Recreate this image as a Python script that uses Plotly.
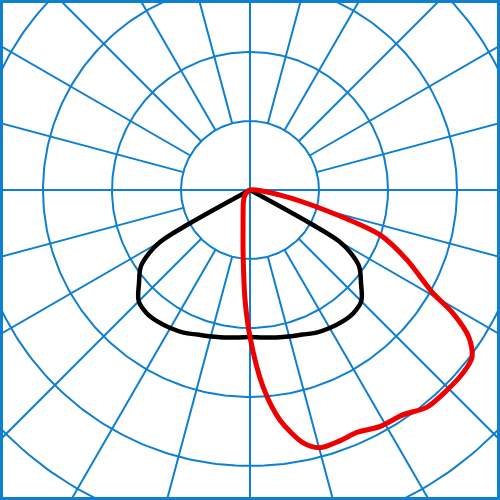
import numpy as np
import plotly.graph_objects as go

# ---- data (luminous intensity, cd/klm) ----
# C0-C180 plane (symmetric), gamma measured from nadir
black_gamma = [0, 10, 20, 25, 30, 35, 40, 45, 50, 55, 58, 60, 61, 90]
black_value = [213, 217, 223, 228, 231, 233, 233, 228, 210, 193, 172, 150, 101, 0]

# C90-C270 plane (asymmetric), negative gamma = left of nadir
red_gamma = [-90, -45, -30, -20, -10, -6.4, -2.6, 0, 3.8, 7.4, 11.8, 15.2, 19.8,
             23.8, 28.7, 34.2, 39.2, 44.6, 49.3, 53, 56, 58.8, 60.6, 66, 70.9,
             74.6, 80.5, 90]
red_value = [0, 10, 19, 29, 58, 90, 159, 213, 286, 336, 374, 387, 386,
             384, 391, 394, 406, 407, 407, 403, 383, 343, 304, 249, 200,
             120, 43, 0]

grid_rings = [100, 200, 300, 400, 500]
grid_angle_step = 15

# ---- layout constants ----
W = H = 500
PX_PER_UNIT = 0.69
CX, CY = 250, 190  # pixel position of the pole

GRID_COLOR = "#0f7fd0"


def to_xy(gamma_deg, value):
    g = np.radians(np.asarray(gamma_deg, dtype=float))
    v = np.asarray(value, dtype=float)
    return v * np.sin(g), -v * np.cos(g)


fig = go.Figure()

# grid: rings
gx, gy = [], []
t = np.linspace(0, 2 * np.pi, 361)
for r in grid_rings:
    gx += list(r * np.cos(t)) + [None]
    gy += list(r * np.sin(t)) + [None]
# grid: radial lines
rmax = 800
for a in range(0, 360, grid_angle_step):
    ar = np.radians(a)
    r0 = 0 if a % 90 == 0 else grid_rings[0]
    gx += [r0 * np.cos(ar), rmax * np.cos(ar), None]
    gy += [r0 * np.sin(ar), rmax * np.sin(ar), None]
fig.add_trace(go.Scatter(x=gx, y=gy, mode="lines",
                         line=dict(color=GRID_COLOR, width=2),
                         hoverinfo="skip", showlegend=False))

# black curve: symmetric plane drawn as two halves from the pole
for sign in (1, -1):
    bx, by = to_xy([sign * g for g in black_gamma[::-1]], black_value[::-1])
    fig.add_trace(go.Scatter(x=bx, y=by, mode="lines",
                             line=dict(color="black", width=4.5, shape="spline", smoothing=1.0),
                             showlegend=False, name="C0-C180"))

# red curve
rx, ry = to_xy(red_gamma, red_value)
fig.add_trace(go.Scatter(x=rx, y=ry, mode="lines",
                         line=dict(color="#ee0000", width=5, shape="spline", smoothing=0.8),
                         showlegend=False, name="C90-C270"))

xr = [-CX / PX_PER_UNIT, (W - CX) / PX_PER_UNIT]
yr = [-(H - CY) / PX_PER_UNIT, CY / PX_PER_UNIT]

fig.update_layout(
    width=W, height=H,
    margin=dict(l=0, r=0, t=0, b=0),
    paper_bgcolor="white", plot_bgcolor="white",
    xaxis=dict(range=xr, visible=False, fixedrange=True),
    yaxis=dict(range=yr, visible=False, fixedrange=True),
    shapes=[dict(type="rect", xref="paper", yref="paper", x0=0, y0=0, x1=1, y1=1,
                 line=dict(color=GRID_COLOR, width=6))],
)

fig.write_html("out.html", config={"displayModeBar": False},
               post_script="document.body.style.margin='0';")
